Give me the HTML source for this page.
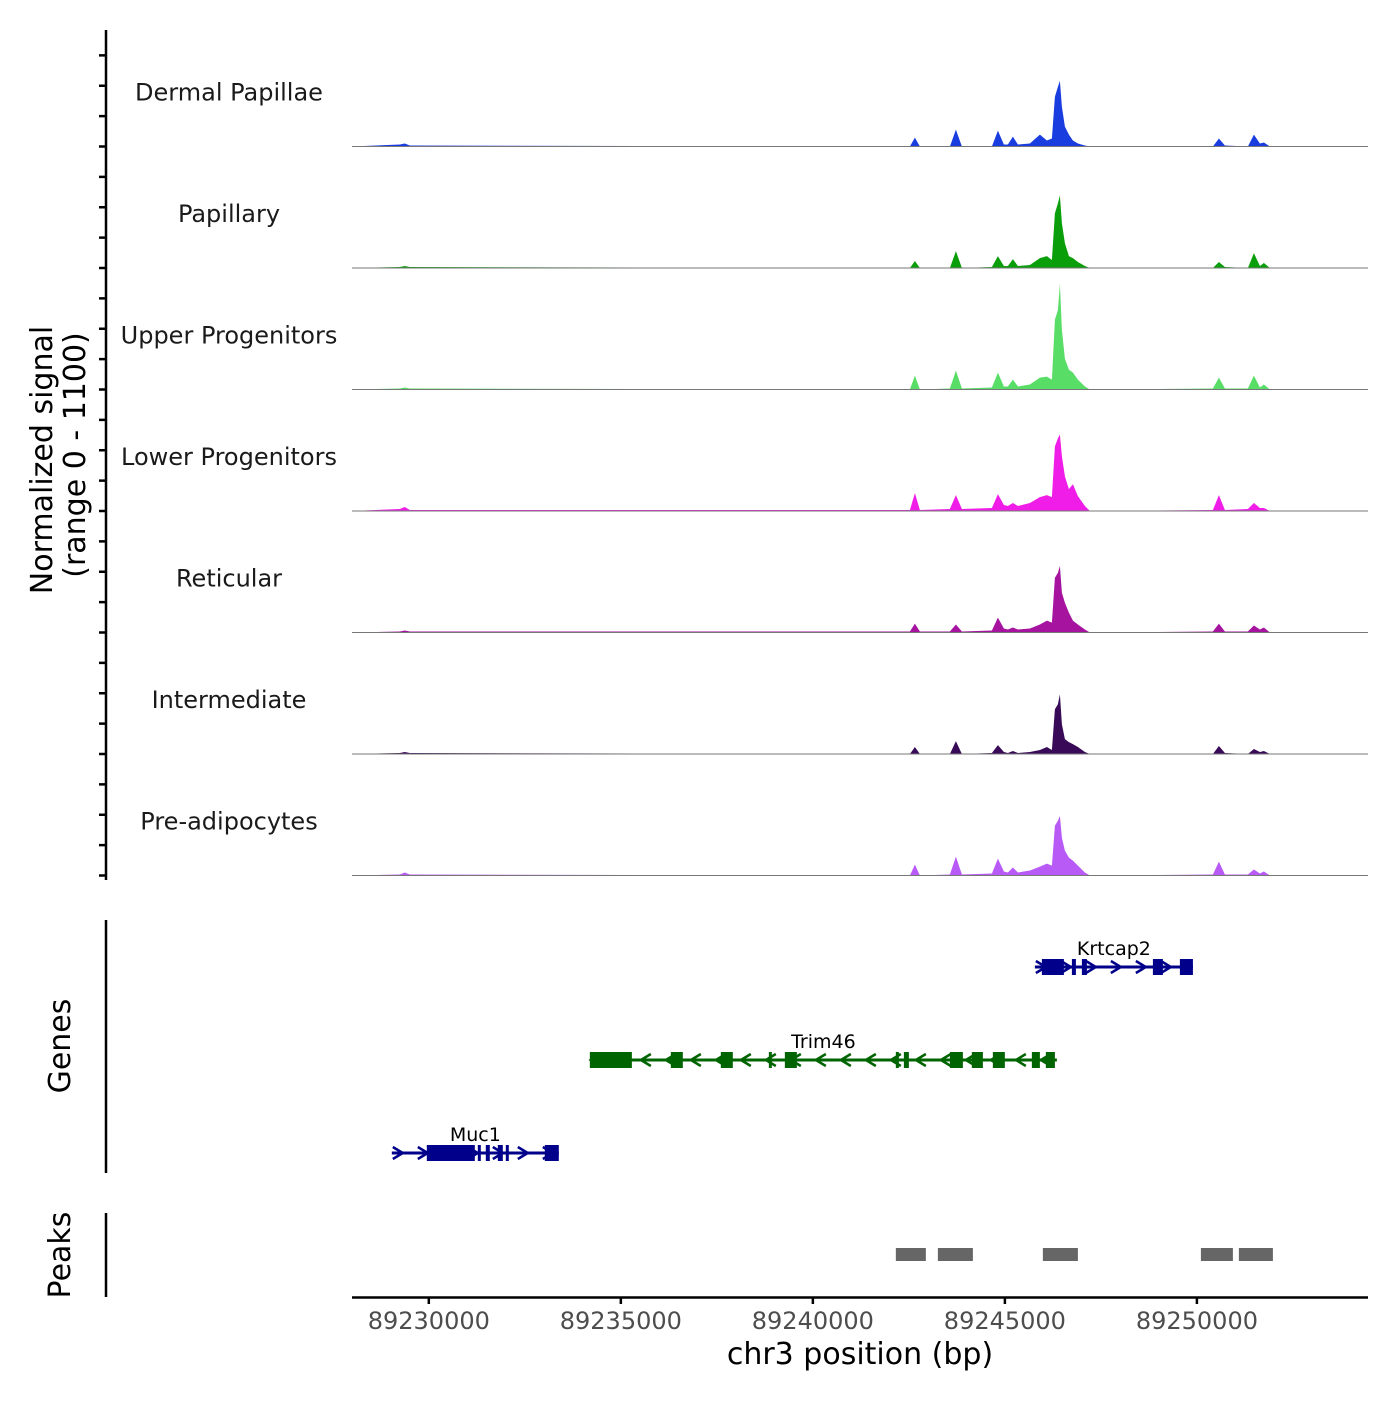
<!DOCTYPE html>
<html><head><meta charset="utf-8"><style>body{margin:0;background:#fff}svg text{font-family:"DejaVu Sans","Liberation Sans",sans-serif}</style></head>
<body>
<svg id="chart" width="1400" height="1400" xmlns="http://www.w3.org/2000/svg"></svg>
<script>
const positions=[89228000,89229245,89229375,89229505,89242526,89242656,89242786,89243568,89243724,89243880,89244661,89244818,89244974,89245078,89245208,89245339,89245651,89245911,89246094,89246224,89246302,89246380,89246432,89246484,89246563,89246667,89246771,89246901,89247083,89247214,89250417,89250573,89250729,89251328,89251484,89251640,89251745,89251901,89254450];
const trackNames=["Dermal Papillae","Papillary","Upper Progenitors","Lower Progenitors","Reticular","Intermediate","Pre-adipocytes"];
const trackColors=["#1a3ddf","#0a9e0a","#58dd66","#f01ce8","#a5139f","#380a58","#b85af5"];
const dermal=[0,18,27,9,0,81,0,0,153,0,0,144,18,18,90,18,27,108,54,72,450,540,594,360,180,108,54,27,9,0,0,72,9,0,108,27,36,0,0];
const papillary=[0,9,18,9,0,63,0,0,153,0,9,108,18,18,81,18,27,90,108,72,495,585,657,405,225,108,90,54,18,0,0,54,9,0,135,18,45,0,0];
const upper=[0,9,18,9,0,126,0,9,171,9,18,153,27,27,90,27,45,108,117,90,630,720,954,540,279,180,153,90,27,0,9,108,9,9,126,18,45,0,0];
const lower=[0,18,36,9,9,162,9,18,144,18,27,153,54,45,72,45,72,126,144,126,585,657,693,495,315,198,243,135,45,0,9,144,9,18,72,27,27,0,0];
const reticular=[0,9,18,9,9,81,9,9,72,9,18,135,36,27,45,27,36,72,108,90,495,540,603,360,270,180,108,72,27,0,9,81,9,9,63,27,45,0,0];
const intermediate=[0,9,18,9,0,63,0,0,117,0,9,81,18,9,27,9,18,36,63,36,405,450,540,270,135,108,90,63,18,0,0,72,9,0,45,18,27,0,0];
const preadipocytes=[0,9,27,9,0,99,0,9,171,9,18,153,36,27,72,27,45,81,108,90,450,495,540,342,225,162,135,90,27,0,9,126,9,9,54,18,36,0,0];
const xTicks=[89230000,89235000,89240000,89245000,89250000];
const geneNames=["Muc1","Trim46","Krtcap2"];
const geneStarts=[89229037,89234193,89245781];
const geneEnds=[89233385,89246354,89249896];
const geneStrands=[1,-1,1];
const geneExons=[
 [[89229948,89231198],[89231276,89231354],[89231484,89231588],[89231797,89231927],[89232005,89232083],[89233021,89233385]],
 [[89234193,89235287],[89236302,89236614],[89237604,89237916],[89238854,89238932],[89239271,89239583],[89242161,89242239],[89242370,89242500],[89243568,89243906],[89244140,89244427],[89244687,89244999],[89245703,89245911],[89246067,89246302]],
 [[89245963,89246536],[89246745,89246849],[89247005,89247135],[89248854,89249114],[89249557,89249896]]];
const peakStarts=[89242161,89243255,89245989,89250104,89251093];
const peakEnds=[89242942,89244167,89246901,89250937,89251979];

const svg=document.getElementById('chart');const NS="http://www.w3.org/2000/svg";
function mk(tag,attrs,parent){const e=document.createElementNS(NS,tag);for(const k in attrs)e.setAttribute(k,attrs[k]);(parent||svg).appendChild(e);return e;}
const X0=352,X1=1368,BP0=89228000,BP1=89254455;
const xs=bp=>X0+(bp-BP0)/(BP1-BP0)*(X1-X0);
const trackH=121.5,base0=146.5,ymax=1100;
const series=[dermal,papillary,upper,lower,reticular,intermediate,preadipocytes];
series.forEach((vals,i)=>{
 const b=base0+i*trackH;
 let d=`M${xs(positions[0])},${b}`;
 vals.forEach((v,j)=>{d+=` L${xs(positions[j]).toFixed(1)},${(b-v/ymax*trackH).toFixed(1)}`;});
 d+=` L${xs(positions[positions.length-1])},${b} Z`;
 const p=mk('path',{d,fill:trackColors[i]});
 
 
 const bl=mk('line',{x1:X0,x2:X1,y1:b,y2:b,stroke:'#777','stroke-width':1});
 
 
 const t=mk('text',{x:229,y:b-46,'text-anchor':'middle','font-size':24,fill:'#1a1a1a'});t.textContent=trackNames[i];
 
 
});
const ax=mk('line',{x1:106,x2:106,y1:30,y2:880,stroke:'#000','stroke-width':2.5});


for(let k=0;k<28;k++){const y=875.5-k*trackH/4;mk('line',{x1:99,x2:106,y1:y,y2:y,stroke:'#000','stroke-width':2.5});}
const yt=mk('text',{transform:'translate(52,460) rotate(-90)','text-anchor':'middle','font-size':30,fill:'#000'});yt.textContent='Normalized signal';


const yt2=mk('text',{transform:'translate(85,455) rotate(-90)','text-anchor':'middle','font-size':30,fill:'#000'});yt2.textContent='(range 0 - 1100)';


mk('line',{x1:106,x2:106,y1:920,y2:1173,stroke:'#000','stroke-width':2.5});
const gt=mk('text',{transform:'translate(70,1046) rotate(-90)','text-anchor':'middle','font-size':30,fill:'#000'});gt.textContent='Genes';


const geneY=[1153,1060,967],geneCol=['#00008b','#006400','#00008b'];
geneNames.forEach((n,i)=>{
 const y=geneY[i],c=geneCol[i],g=mk('g',{});
 
 
 const a=xs(geneStarts[i]),b=xs(geneEnds[i]);
 mk('line',{x1:a,x2:b,y1:y,y2:y,stroke:c,'stroke-width':3},g);
 for(let x=a+6;x<b-4;x+=25){const s=geneStrands[i]*5;mk('polyline',{points:`${x-s},${y-6} ${x+s},${y} ${x-s},${y+6}`,fill:'none',stroke:c,'stroke-width':2.5},g);}
 geneExons[i].forEach(e=>{mk('rect',{x:xs(e[0]),y:y-8,width:Math.max(3,xs(e[1])-xs(e[0])),height:16,fill:c},g);});
 const t=mk('text',{x:(a+b)/2,y:y-12,'text-anchor':'middle','font-size':19,fill:'#000'},g);t.textContent=n;
});
mk('line',{x1:106,x2:106,y1:1213,y2:1297,stroke:'#000','stroke-width':2.5});
const pt=mk('text',{transform:'translate(70,1255) rotate(-90)','text-anchor':'middle','font-size':30,fill:'#000'});pt.textContent='Peaks';


peakStarts.forEach((s,i)=>{const r=mk('rect',{x:xs(s),y:1248,width:xs(peakEnds[i])-xs(s),height:13,fill:'#666'});
 
 });
const xa=mk('line',{x1:X0,x2:X1,y1:1297.5,y2:1297.5,stroke:'#000','stroke-width':2.5});


xTicks.forEach(v=>{const x=xs(v);mk('line',{x1:x,x2:x,y1:1297,y2:1304,stroke:'#000','stroke-width':2.5});
 const t=mk('text',{x,y:1329,'text-anchor':'middle','font-size':24,fill:'#4d4d4d'});t.textContent=v;
 
 });
const xt=mk('text',{x:860,y:1364,'text-anchor':'middle','font-size':30,fill:'#000'});xt.textContent='chr3 position (bp)';


</script>
</body></html>
